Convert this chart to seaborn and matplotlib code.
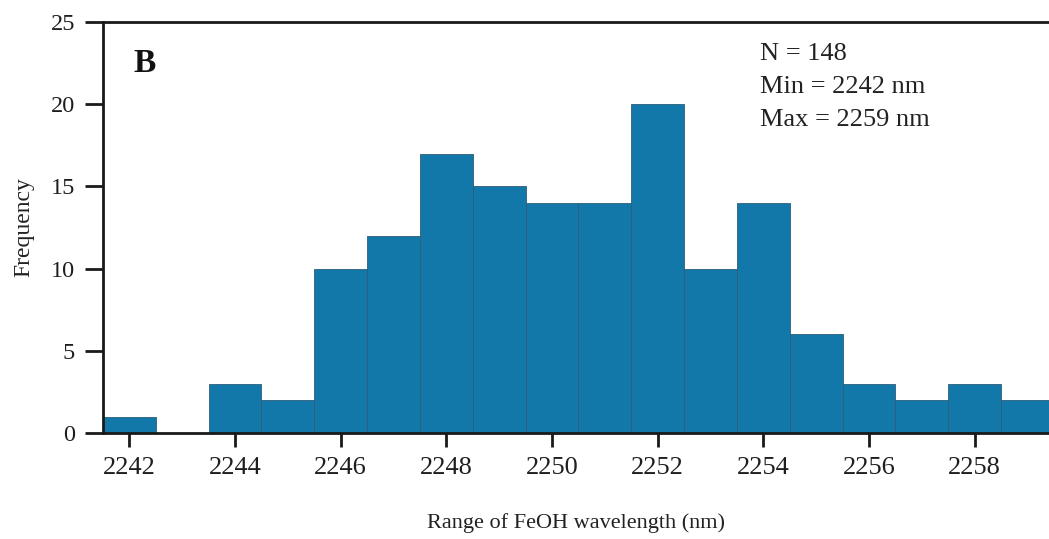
import matplotlib
matplotlib.use("Agg")
import matplotlib.pyplot as plt
import seaborn as sns
import numpy as np

# FeOH absorption wavelength (nm) and number of samples at each value
wavelengths = [2242, 2243, 2244, 2245, 2246, 2247, 2248, 2249, 2250,
               2251, 2252, 2253, 2254, 2255, 2256, 2257, 2258, 2259]
counts = [1, 0, 3, 2, 10, 12, 17, 15, 14, 14, 20, 10, 14, 6, 3, 2, 3, 2]
x_ticks = [2242, 2244, 2246, 2248, 2250, 2252, 2254, 2256, 2258]
y_ticks = [0, 5, 10, 15, 20, 25]
stats_lines = ["N = 148", "Min = 2242 nm", "Max = 2259 nm"]
panel_label = "B"

sns.set_theme(style="white")
plt.rcParams["font.family"] = ["Liberation Serif", "DejaVu Serif"]

fig = plt.figure(figsize=(10.49, 5.39), dpi=100)
ax = fig.add_axes([103 / 1049, 1 - 433 / 539, 1 - 103 / 1049, (433 - 22) / 539])

sns.histplot(x=wavelengths, weights=counts, discrete=True, ax=ax,
             color="#1277a9", alpha=1.0, edgecolor="#2f5d78", linewidth=0.6)

ax.set_xlim(2241.5, 2241.5 + 946 / 52.83)
ax.set_ylim(0, 25)
ax.set_xticks(x_ticks)
ax.set_yticks(y_ticks)

for side in ["left", "bottom", "top"]:
    ax.spines[side].set_visible(True)
    ax.spines[side].set_linewidth(2.0)
    ax.spines[side].set_color("#1a1a1a")
ax.spines["right"].set_visible(False)

ax.tick_params(axis="y", which="major", direction="out", length=13, width=2,
               color="#1a1a1a", labelsize=17.5, pad=7, left=True,
               labelcolor="#1e1e1e")
ax.tick_params(axis="x", which="major", direction="out", length=10, width=2,
               color="#1a1a1a", labelsize=19, pad=7, bottom=True,
               labelcolor="#1e1e1e")

ax.set_xlabel("Range of FeOH wavelength (nm)", fontsize=16, labelpad=25,
              color="#222222")
ax.set_ylabel("Frequency", fontsize=17, labelpad=12, color="#222222")

ax.text(0.0317, 0.878, panel_label, transform=ax.transAxes, fontsize=24,
        fontweight="bold", va="baseline", ha="left", color="#111111")

baselines = [60, 92.7, 125.7]
for line, yb in zip(stats_lines, baselines):
    ax.text((760 - 103) / 946, (433 - yb) / 411, line, transform=ax.transAxes,
            fontsize=19, va="baseline", ha="left", color="#222222")

fig.savefig("out.png", dpi=100, facecolor="white")
